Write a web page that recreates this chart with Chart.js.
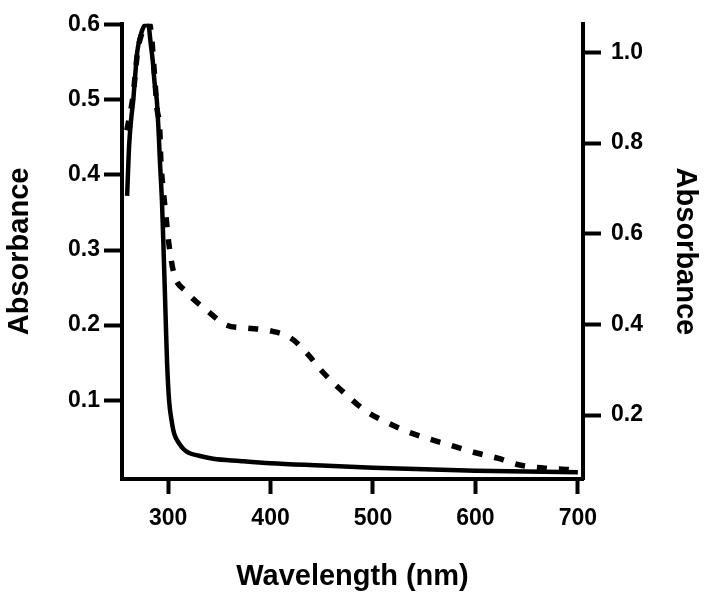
<!DOCTYPE html>
<html>
<head>
<meta charset="utf-8">
<script src="https://cdn.jsdelivr.net/npm/chart.js@4/dist/chart.umd.min.js"></script>
<style>
html,body{margin:0;padding:0;background:#fff;}
canvas{display:block;}
</style>
</head>
<body>
<canvas id="c" width="707" height="601"></canvas>
<script>
// Solid trace (left axis)
const solidWavelength = [260,262,264,266,268,270,273,276,278.5,281,283,285,287,289,291,292,294,295,296.5,298,299,301,303.5,306,311,315,320,330,344,370,400,450,500,550,600,650,700];
const solidAbsorbance = [0.372,0.44,0.475,0.50,0.535,0.565,0.585,0.597,0.600,0.598,0.575,0.552,0.52,0.499,0.45,0.419,0.365,0.325,0.26,0.192,0.15,0.099,0.072,0.055,0.042,0.035,0.030,0.026,0.022,0.019,0.016,0.013,0.010,0.008,0.006,0.005,0.004];
// Dashed trace (right axis)
const dashedWavelength = [259.7,262.6,265.6,270.4,275.3,279.2,282.1,287,289,291.9,292.9,294.8,297.8,300.7,305.6,317.3,337.8,357.3,376.8,401.2,419.7,435.3,450.9,472.4,492.9,512.4,531.9,552.4,574.8,598.2,621.7,643.1,667.5,698.7];
const dashedAbsorbance = [0.828,0.861,0.901,1.004,1.048,1.066,1.062,0.943,0.879,0.828,0.762,0.707,0.641,0.579,0.513,0.473,0.431,0.398,0.392,0.385,0.370,0.337,0.295,0.248,0.209,0.185,0.165,0.149,0.134,0.118,0.105,0.090,0.083,0.079];
// Tick labels
const xTicks = [300,400,500,600,700];
const leftTicks = [0.1,0.2,0.3,0.4,0.5,0.6];
const rightTicks = [0.2,0.4,0.6,0.8,1.0];

const toPts = (xs, ys) => xs.map((x, i) => ({x: x, y: ys[i]}));
const FONT = 'Liberation Sans, Arial, sans-serif';
const TICK_FONT = { family: FONT, size: 23, weight: 'bold' };
const TITLE_FONT = { family: FONT, size: 29, weight: 'bold' };

const bgPlugin = {
  id: 'bg',
  beforeDraw(chart) {
    const ctx = chart.ctx;
    ctx.save();
    ctx.fillStyle = '#fff';
    ctx.fillRect(0, 0, chart.width, chart.height);
    ctx.restore();
  }
};

new Chart(document.getElementById('c'), {
  type: 'line',
  data: {
    datasets: [
      {
        data: toPts(solidWavelength, solidAbsorbance),
        yAxisID: 'y',
        borderColor: '#000',
        borderWidth: 4.5,
        pointRadius: 0,
        cubicInterpolationMode: 'monotone',
        fill: false
      },
      {
        data: toPts(dashedWavelength, dashedAbsorbance),
        yAxisID: 'y1',
        borderColor: '#000',
        borderWidth: 5.5,
        borderDash: [10, 12],
        pointRadius: 0,
        cubicInterpolationMode: 'monotone',
        fill: false
      }
    ]
  },
  options: {
    responsive: false,
    animation: false,
    layout: { padding: { top: 23, left: 0, right: 0, bottom: 0 } },
    plugins: { legend: { display: false }, tooltip: { enabled: false } },
    scales: {
      x: {
        type: 'linear',
        min: 255,
        max: 705,
        afterBuildTicks: s => { s.ticks = xTicks.map(v => ({value: v})); },
        afterFit: s => { s.height = 122; },
        border: { display: true, color: '#000', width: 4 },
        grid: { drawOnChartArea: false, drawTicks: true, tickLength: 15, tickWidth: 4, tickColor: '#000' },
        ticks: { color: '#000', font: TICK_FONT, padding: 11, maxRotation: 0 },
        title: { display: true, text: 'Wavelength (nm)', color: '#000', font: TITLE_FONT, padding: { top: 0, bottom: 7 } }
      },
      y: {
        type: 'linear',
        position: 'left',
        min: -0.005,
        max: 0.6013,
        afterBuildTicks: s => { s.ticks = leftTicks.map(v => ({value: v})); },
        afterFit: s => { s.width = 122; },
        border: { display: true, color: '#000', width: 4 },
        grid: { drawOnChartArea: false, drawTicks: true, tickLength: 18, tickWidth: 4, tickColor: '#000' },
        ticks: { color: '#000', font: TICK_FONT, padding: 4, callback: v => v.toFixed(1) },
        title: { display: true, text: 'Absorbance', color: '#000', font: TITLE_FONT, padding: { top: 3, bottom: 0 } }
      },
      y1: {
        type: 'linear',
        position: 'right',
        min: 0.059,
        max: 1.063,
        afterBuildTicks: s => { s.ticks = rightTicks.map(v => ({value: v})); },
        afterFit: s => { s.width = 124; },
        border: { display: true, color: '#000', width: 4 },
        grid: { drawOnChartArea: false, drawTicks: true, tickLength: 18, tickWidth: 4, tickColor: '#000' },
        ticks: { color: '#000', font: TICK_FONT, padding: 10, callback: v => v.toFixed(1) },
        title: { display: true, text: 'Absorbance', color: '#000', font: TITLE_FONT, padding: { top: 5, bottom: 0 } }
      }
    }
  },
  plugins: [bgPlugin]
});
</script>
</body>
</html>
